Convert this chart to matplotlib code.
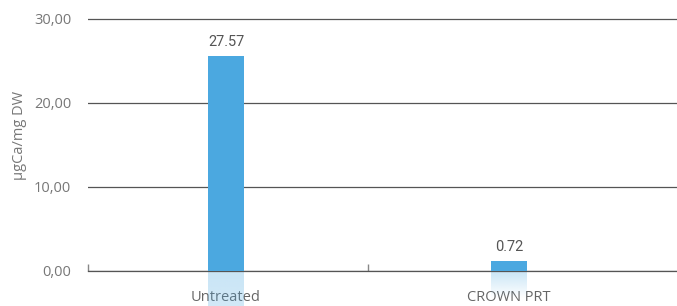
import numpy as np
import matplotlib.pyplot as plt
from matplotlib.ticker import FuncFormatter

# data
categories = ['Untreated', 'CROWN PRT']
value_labels = ['27.57', '0.72']
bar_heights = [25.6, 1.2]      # drawn heights as seen in the picture
refl_depth = [25.6, 3.2]       # how far the faded reflection runs
yticks = [0, 10, 20, 30]

blue = '#4BA8E0'
plt.rcParams['font.family'] = ['Open Sans', 'DejaVu Sans']

fig = plt.figure(figsize=(6.77, 3.06), dpi=100)
ax = fig.add_axes([88/677, 35/306, 589/677, 271/306])

x = np.arange(len(categories))
w = 0.127
ax.bar(x, bar_heights, width=w, color=blue, zorder=3)

# reflection under the axis
rgb = np.array([0x4B, 0xA8, 0xE0]) / 255
for xi, h, d in zip(x, bar_heights, refl_depth):
    n = 100
    a = np.linspace(0.3, 0, n)[:, None]
    img = np.zeros((n, 2, 4))
    img[..., :3] = rgb
    img[..., 3] = a
    ax.imshow(img, extent=[xi - w/2, xi + w/2, -d, 0], aspect='auto',
              origin='upper', clip_on=False, zorder=1, interpolation='bilinear')

for xi, h, lab in zip(x, bar_heights, value_labels):
    ax.annotate(lab, (xi, h), xytext=(0, 5), textcoords='offset points',
                ha='center', va='bottom', fontsize=10.5, color='#555555',
                family=['Roboto', 'DejaVu Sans'])

ax.set_xlim(-0.488, 1.594)
ax.set_ylim(0, 32.26)
ax.set_yticks(yticks)
ax.yaxis.set_major_formatter(FuncFormatter(lambda v, p: f'{v:.2f}'.replace('.', ',')))
ax.yaxis.grid(True, color='#555555', linewidth=0.9, zorder=0)
ax.set_axisbelow(True)

ax.set_xticks(x)
ax.set_xticklabels(categories)
ax.set_xticks([-0.487, 0.5], minor=True)
ax.tick_params(axis='x', which='major', length=0, pad=14, labelsize=10.5, labelcolor='#666666')
ax.tick_params(axis='x', which='minor', direction='in', length=5, color='#888888', width=1)
ax.tick_params(axis='y', length=0, pad=12, labelsize=10.5, labelcolor='#777777')

for s in ['top', 'right', 'left']:
    ax.spines[s].set_visible(False)
ax.spines['bottom'].set_color('#555555')
ax.spines['bottom'].set_linewidth(0.9)

ax.set_ylabel('µgCa/mg DW', fontsize=10.5, color='#777777', labelpad=5)

fig.savefig('out.png', dpi=100)
